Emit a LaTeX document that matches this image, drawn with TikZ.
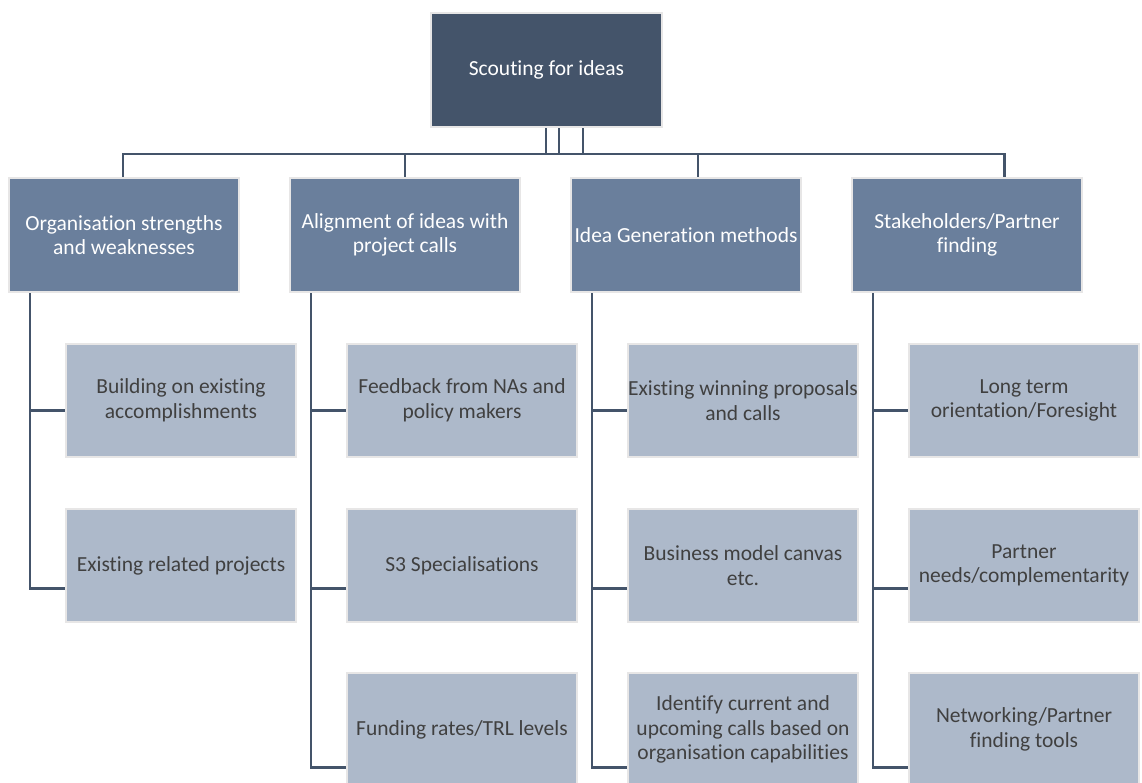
\documentclass[tikz,border=0pt]{standalone}
\usepackage{fontspec}
\setmainfont{Carlito}[Ligatures=NoCommon]
\usetikzlibrary{positioning,backgrounds,calc}
\definecolor{navy}{HTML}{44546A}
\definecolor{slate}{HTML}{6A7F9C}
\definecolor{mist}{HTML}{ADB9CA}
\definecolor{rim}{HTML}{E7E6E6}
\definecolor{ink}{HTML}{404040}

\begin{document}
\begin{tikzpicture}[
    x=1pt, y=-1pt,
    box/.style={draw=rim, line width=2pt, minimum width=230pt, minimum height=114pt,
                align=center, inner xsep=0pt, font=\fontsize{21.5}{24.5}\selectfont},
    root/.style={box, fill=navy, text=white, minimum width=231pt},
    branch/.style={box, fill=slate, text=white},
    leaf/.style={box, fill=mist, text=ink, minimum height=113pt},
    link/.style={draw=navy, line width=2.5pt},
]
\useasboundingbox (0,0) rectangle (1142,783);

\node[root] (top) at (546.5,70) {Scouting for ideas};

% first level
\node[branch] (o1) at (124,235) {Organisation strengths\\and weaknesses};
\node[branch, right=49pt of o1] (o2) {Alignment of ideas with\\project calls};
\node[branch, right=49pt of o2] (o3) {Idea Generation methods};
\node[branch, right=49pt of o3] (o4) {Stakeholders/Partner\\finding};

% second level
\node[leaf, below=50pt of o1, xshift=57pt] (c11) {Building on existing\\accomplishments};
\node[leaf, below=50pt of c11] (c12) {Existing related projects};

\node[leaf, below=50pt of o2, xshift=57pt] (c21) {Feedback from NAs and\\policy makers};
\node[leaf, below=50pt of c21] (c22) {S3 Specialisations};
\node[leaf, below=49pt of c22] (c23) {Funding rates/TRL levels};

\node[leaf, below=50pt of o3, xshift=57pt] (c31) {Existing winning proposals\\and calls};
\node[leaf, below=50pt of c31] (c32) {Business model canvas\\etc.};
\node[leaf, below=49pt of c32] (c33) {Identify current and\\upcoming calls based on\\organisation capabilities};

\node[leaf, below=50pt of o4, xshift=57pt] (c41) {Long term\\orientation/Foresight};
\node[leaf, below=50pt of c41] (c42) {Partner\\needs/complementarity};
\node[leaf, below=49pt of c42] (c43) {Networking/Partner\\finding tools};

\begin{scope}[on background layer]
% root to bus
\foreach \dx in {-0.5,12.5,36.5}
  \draw[link] ([xshift=\dx pt]top.south) -- ++(0,26);
\draw[link] ([xshift=-1pt]o1.north) |- ([xshift=37.5pt,yshift=23pt]o4.north) -- ([xshift=37.5pt]o4.north);
\draw[link] (o2.north) -- ++(0,-23);
\draw[link] ([xshift=12pt]o3.north) -- ++(0,-23);
% trunks
\foreach \o/\c/\dy in {o1/c11/10, o1/c12/23,
                       o2/c21/10, o2/c22/23, o2/c23/38,
                       o3/c31/10, o3/c32/23, o3/c33/38,
                       o4/c41/10, o4/c42/23, o4/c43/38}
  \draw[link] ([xshift=22pt]\o.south west) |- ([yshift=-\dy pt]\c.west);
\end{scope}
\end{tikzpicture}
\end{document}
